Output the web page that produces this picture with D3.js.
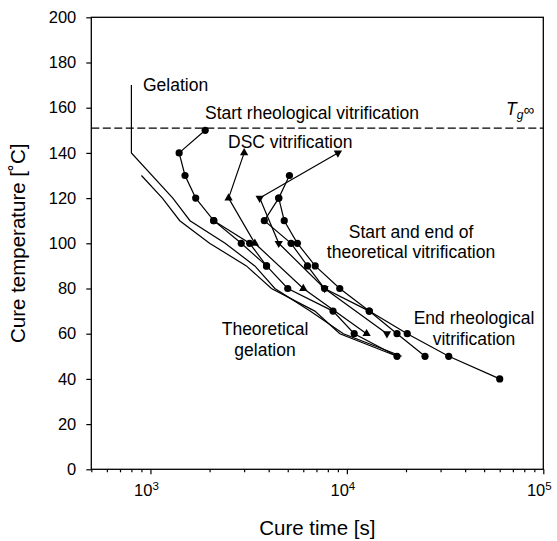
<!DOCTYPE html>
<html>
<head>
<meta charset="utf-8">
<script src="https://cdn.jsdelivr.net/npm/d3@7"></script>
<style>
  body { margin: 0; background: #fff; }
  text { font-family: "Liberation Sans", Arial, sans-serif; fill: #000; }
</style>
</head>
<body>
<div id="chart"></div>
<script>
// [time s, temperature C]
const gelation = [[800,170],[800,140],[1300,120],[1590,110],[2400,100],[3400,90],[4300,80],[6500,70],[9600,60],[19000,50]];
const theoGelation = [[900,130],[1150,120],[1410,110],[2000,100],[3080,90],[4130,80],[6870,70],[9210,60],[18000,50]];
const startRheo = [[1900,150],[1400,140],[1500,130],[1700,120],[2100,110],[2900,100],[3900,90],[5000,80],[8500,70],[10900,60],[18000,50]];
const startRheoB = [[2100,110],[3200,100],[3900,90]];
const theoVitStart = [[5100,130],[4500,120],[3800,110],[5200,100],[6300,90],[7700,80],[13000,70],[18000,60],[25000,50]];
const theoVitEnd = [[4500,120],[4800,110],[5600,100],[6900,90],[9200,80],[13000,70],[20300,60],[33000,50],[60000,40]];
const dscVit = [[3000,140],[2500,120],[3400,100],[6000,80],[12600,60]];
const downTri = [[9000,140],[3600,120],[4500,100],[7700,80],[16000,60]];
const tgInf = 151;

const yTicks = d3.range(0, 201, 20);
const xMajor = [1e3, 1e4, 1e5];
const xExp = ["3", "4", "5"];

const W = 557, H = 541,
    margin = {top: 17.3, right: 13.7, bottom: 71.7, left: 91.3};

const svg = d3.select("#chart").append("svg")
    .attr("width", W).attr("height", H);

const x = d3.scaleLog().domain([500, 1e5]).range([margin.left, W - margin.right]);
const y = d3.scaleLinear().domain([0, 200]).range([H - margin.bottom, margin.top]);

// frame
svg.append("rect")
    .attr("x", x.range()[0]).attr("y", y.range()[1])
    .attr("width", x.range()[1] - x.range()[0])
    .attr("height", y.range()[0] - y.range()[1])
    .attr("fill", "none").attr("stroke", "#000").attr("stroke-width", 1.3);

// y axis
const yAxis = svg.append("g")
    .attr("transform", `translate(${margin.left},0)`)
    .call(d3.axisLeft(y).tickValues(yTicks).tickSize(5).tickPadding(10).tickSizeOuter(0));
yAxis.select(".domain").remove();
yAxis.selectAll("text").style("font-size", "16.5px").attr("font-family", null);
yAxis.selectAll("line").attr("stroke-width", 1.2);

// x axis: minor + major ticks
const minorTicks = [];
[100, 1000, 10000].forEach(dec => {
  for (let k = 2; k <= 9; k++) {
    const v = dec * k;
    if (v >= 500 && v <= 1e5) minorTicks.push(v);
  }
});
const xAxisMinor = svg.append("g")
    .attr("transform", `translate(0,${H - margin.bottom})`)
    .call(d3.axisBottom(x).tickValues(minorTicks).tickSize(3).tickFormat("").tickSizeOuter(0));
xAxisMinor.select(".domain").remove();
const xAxisMajor = svg.append("g")
    .attr("transform", `translate(0,${H - margin.bottom})`)
    .call(d3.axisBottom(x).tickValues(xMajor).tickSize(5).tickFormat("").tickSizeOuter(0));
xAxisMajor.select(".domain").remove();
svg.selectAll("g .tick line").attr("stroke-width", 1.2);

const xLab = svg.append("g").selectAll("text")
    .data(xMajor)
    .join("text")
    .attr("x", d => x(d) - 4)
    .attr("y", H - margin.bottom + 27)
    .attr("text-anchor", "middle")
    .style("font-size", "16.5px");
xLab.append("tspan").text("10");
xLab.append("tspan").attr("dy", -6).style("font-size", "11.5px").text((d, i) => xExp[i]);

// axis titles
svg.append("text")
    .attr("x", (x.range()[0] + x.range()[1]) / 2)
    .attr("y", H - 6)
    .attr("text-anchor", "middle")
    .style("font-size", "20.5px")
    .text("Cure time [s]");
svg.append("text")
    .attr("transform", `translate(25,${(y.range()[0] + y.range()[1]) / 2}) rotate(-90)`)
    .attr("text-anchor", "middle")
    .style("font-size", "20.5px")
    .text("Cure temperature [˚C]");

// Tg infinity dashed line
svg.append("line")
    .attr("x1", x.range()[0]).attr("x2", x.range()[1])
    .attr("y1", y(tgInf)).attr("y2", y(tgInf))
    .attr("stroke", "#000").attr("stroke-width", 1.2)
    .attr("stroke-dasharray", "8,3.5");

const line = d3.line().x(d => x(d[0])).y(d => y(d[1]));
const curves = [gelation, theoGelation, startRheo, startRheoB, theoVitStart, theoVitEnd, dscVit, downTri];
svg.append("g").selectAll("path")
    .data(curves)
    .join("path")
    .attr("d", line)
    .attr("fill", "none")
    .attr("stroke", "#000")
    .attr("stroke-width", 1.2);

// circle markers
const circlePts = [...startRheo, ...startRheoB, ...theoVitStart, ...theoVitEnd];
svg.append("g").selectAll("circle")
    .data(circlePts)
    .join("circle")
    .attr("cx", d => x(d[0])).attr("cy", d => y(d[1]))
    .attr("r", 3.6).attr("fill", "#000");

const triUp = d3.symbol().type(d3.symbolTriangle).size(30);
svg.append("g").selectAll("path")
    .data(dscVit)
    .join("path")
    .attr("d", triUp)
    .attr("transform", d => `translate(${x(d[0])},${y(d[1])})`)
    .attr("fill", "#000");
svg.append("g").selectAll("path")
    .data(downTri)
    .join("path")
    .attr("d", triUp)
    .attr("transform", d => `translate(${x(d[0])},${y(d[1])}) rotate(180)`)
    .attr("fill", "#000");

// annotations
const note = (tx, ty, str, anchor = "start") => svg.append("text")
    .attr("x", tx).attr("y", ty).attr("text-anchor", anchor)
    .style("font-size", "17.5px").text(str);
note(143, 91, "Gelation");
note(205, 119, "Start rheological vitrification");
note(228, 148, "DSC vitrification");
note(411, 238, "Start and end of", "middle");
note(411, 258, "theoretical vitrification", "middle");
note(474, 324, "End rheological", "middle");
note(474, 344.5, "vitrification", "middle");
note(265, 335, "Theoretical", "middle");
note(265, 355.5, "gelation", "middle");

const tg = svg.append("text").attr("x", 506).attr("y", 115).style("font-size", "17.5px");
tg.append("tspan").style("font-style", "italic").text("T");
tg.append("tspan").attr("dy", 4).style("font-style", "italic").style("font-size", "12px").text("g");
tg.append("tspan").attr("dy", -4).style("font-size", "15px").text("∞");
</script>
</body>
</html>
